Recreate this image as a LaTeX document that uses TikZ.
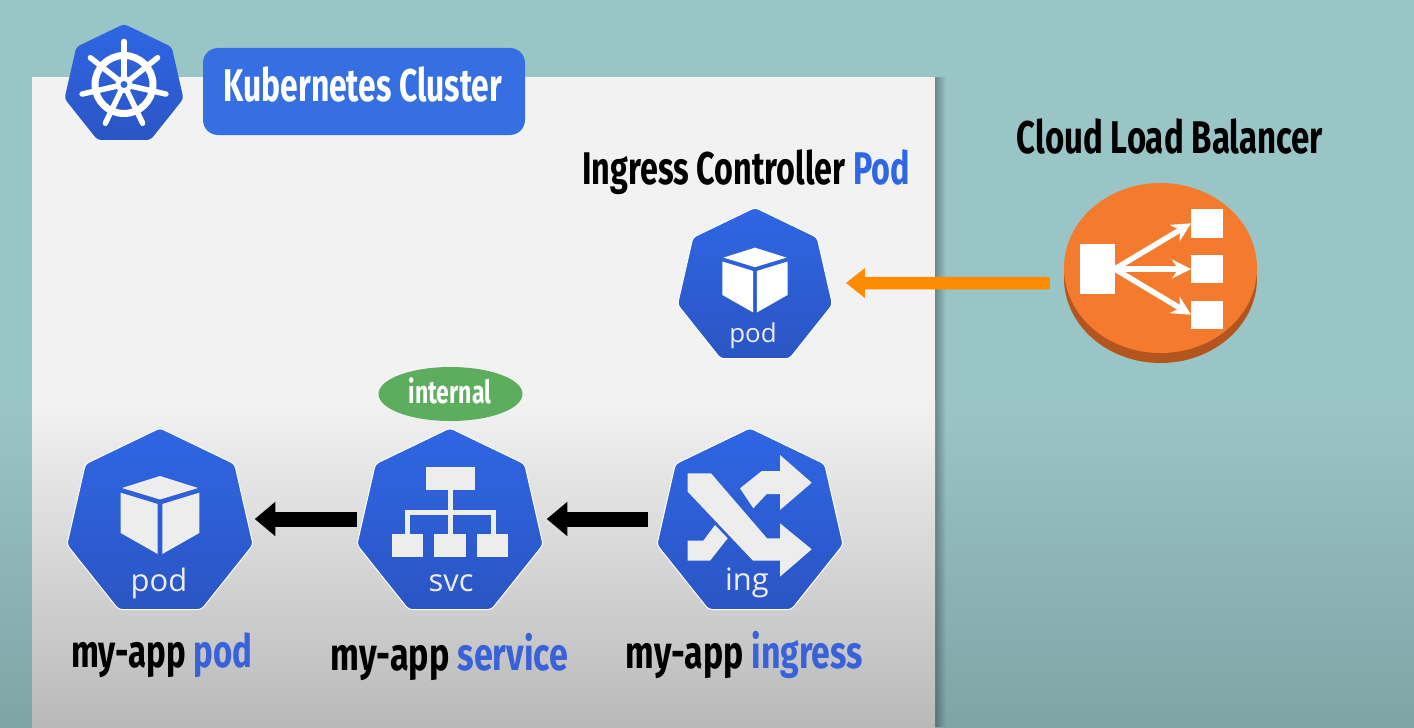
\documentclass[tikz,border=0pt]{standalone}
\usepackage{fontspec}
\setmainfont{Open Sans}
\newfontfamily\headfont[FakeStretch=0.72]{Fira Sans}
\usetikzlibrary{arrows.meta, positioning, shapes.geometric, calc, fadings}
\definecolor{cteal}{HTML}{9AC5C7}
\definecolor{ctealdark}{HTML}{7FA4A6}
\definecolor{cpanel}{HTML}{F2F2F2}
\definecolor{cpaneldark}{HTML}{B9B9B9}
\definecolor{cblue}{HTML}{2F66E4}
\definecolor{cbluedark}{HTML}{2B55C4}
\definecolor{cpill}{HTML}{356FE2}
\definecolor{ctext}{HTML}{3A62D8}
\definecolor{cgreen}{HTML}{5CAE5E}
\definecolor{corange}{HTML}{F47B2E}
\definecolor{corangedark}{HTML}{B3551F}
\definecolor{carrow}{HTML}{FF8C00}
\definecolor{cicon}{HTML}{EDEDED}
\tikzset{
  hepta/.style={regular polygon, regular polygon sides=7, inner sep=0pt, minimum size=#1,
    rounded corners=3.5pt, top color=cblue, bottom color=cbluedark, draw=white!90!cpanel, line width=1pt},
  head/.style={font=\headfont\bfseries\fontsize{46}{48}\selectfont, inner sep=0pt},
  iconlabel/.style={font=\fontsize{#1}{#1}\selectfont, text=cicon, inner sep=0pt},
  flow/.style={-{Triangle[length=20.5bp, width=33bp]}, line width=15bp},
  flowlb/.style={-{Triangle[length=19bp, width=29bp]}, draw=carrow, line width=12.5bp},
  lbbox/.style={fill=white, inner sep=0pt, minimum width=#1},
  fan/.style={-{Stealth[length=19bp, width=19bp]}, draw=white, line width=5.5bp},
}
\newcommand{\cubeicon}[4]{ % x, y, scale, colour
  \begin{scope}[shift={(#1,#2)}, scale=#3]
    \fill[#4] (0,-48) -- (38,-36) -- (0,-24.5) -- (-38,-36) -- cycle;
    \fill[#4] (-39.3,-31.3) -- (-2.3,-20) -- (-2.3,30) -- (-39.3,9) -- cycle;
    \fill[#4] (39.3,-31.3) -- (2.3,-20) -- (2.3,30) -- (39.3,9) -- cycle;
  \end{scope}
}
\begin{document}
\begin{tikzpicture}[x=1bp, y=-1bp]
  \useasboundingbox (0,0) rectangle (1414,727);
  % background
  \fill[cteal] (0,0) rectangle (1414,401);
  \shade[top color=cteal, bottom color=ctealdark] (0,400) rectangle (1414,727);
  \fill[black, opacity=0.3, path fading=east] (935,77) rectangle (946,727);
  % cluster panel
  \fill[cpanel] (32,77) rectangle (935,401);
  \shade[top color=cpanel, bottom color=cpaneldark] (32,400) rectangle (935,727);
  % logo
  \node[hepta=122bp, draw=none] (logo) at (124,85) {};
  \draw[white, line width=7bp] (124,84.5) circle (29);
  \foreach \a in {0,...,6} {
    \draw[white, line width=5.5bp, line cap=round] (124,84.5) -- ++({90+\a*360/7}:-43);
  }
  \fill[white] (124,84.5) circle (8.5);
  \fill[cblue] (124,84.5) circle (3.5);
  \node[fill=cpill, rounded corners=15bp, minimum width=322bp, minimum height=87bp, inner sep=0pt] (clusterbox) at (364,91.5) {};
  \node[head, text=white, xscale=0.965, transform shape] (clustertext) at (363,84) {Kubernetes Cluster};
  % ingress controller
  \node[head, xscale=0.98, transform shape] (ctrltitle) at (746,172.5) {Ingress Controller \textcolor{cblue}{Pod}};
  \node[hepta=159bp] (ctrl) at (755,287) {};
  \cubeicon{755}{287.5}{0.83}{white}
  \node[iconlabel=26] (ctrllabel) at (753,336) {pod};
  % load balancer
  \node[head] (lbtitle) at (1170,136) {Cloud Load Balancer};
  \fill[corangedark] (1160.5,278) ellipse (96.5 and 85);
  \node[ellipse, fill=corange, minimum width=193bp, minimum height=170bp, inner sep=0pt] (lb) at (1160.5,268) {};
  \node[lbbox=34.5bp, minimum height=50bp] (lbin) at (1097.3,269) {};
  \node[lbbox=31.5bp, minimum height=28.5bp] (lbone) at (1207,223.3) {};
  \node[lbbox=31.5bp, minimum height=28bp] (lbtwo) at (1207,269) {};
  \node[lbbox=31.5bp, minimum height=28bp] (lbthree) at (1207,314.7) {};
  \draw[fan] (lbin.east) -- (lbone.west);
  \draw[fan] (lbin.east) -- (lbtwo.west);
  \draw[fan] (lbin.east) -- (lbthree.west);
  \draw[flowlb] ([xshift=-14bp, yshift=-15bp]lb.west) -- ([xshift=17bp, yshift=4bp]ctrl.east);
  % my-app pod
  \node[hepta=191bp] (pod) at (160,523.5) {};
  \cubeicon{160}{524}{1}{cicon}
  \node[iconlabel=31] (podlabel) at (159,583) {pod};
  \node[head] (podtitle) at (162,655) {my-app \textcolor{ctext}{pod}};
  % my-app service
  \node[hepta=191bp] (svc) at (450,523.5) {};
  \fill[cicon] (425.7,467) rectangle (475,490);
  \fill[cicon] (392.3,534) rectangle (423.3,556.7);
  \fill[cicon] (434.3,534) rectangle (465.7,556.7);
  \fill[cicon] (476.7,534) rectangle (508.3,556.7);
  \fill[cicon] (447.7,490) rectangle (452.7,534);
  \fill[cicon] (405,510) rectangle (495.7,515);
  \fill[cicon] (405,510) rectangle (410,534);
  \fill[cicon] (490.7,510) rectangle (495.7,534);
  \node[iconlabel=31] (svclabel) at (451,583) {svc};
  \node[ellipse, fill=cgreen, minimum width=144bp, minimum height=54bp, inner sep=0pt] (internal) at (450.5,394) {};
  \node[font=\headfont\bfseries\fontsize{32}{34}\selectfont, text=white, inner sep=0pt] (internaltext) at (450,391) {internal};
  \node[head, xscale=1.035, transform shape] (svctitle) at (449.5,657) {my-app \textcolor{ctext}{service}};
  % my-app ingress
  \node[hepta=191bp] (ing) at (750,523.5) {};
  \fill[cicon] (687.7,473.3) -- (711,473.3) -- (767,538.3) -- (780,538.3) -- (780,523.3) -- (811.7,549.3)
    -- (780,576.7) -- (780,560.7) -- (753,560.7) -- (687.7,491.7) -- cycle;
  \fill[cicon] (740,488.3) -- (761.7,471) -- (780,471) -- (780,455) -- (811.7,482.7) -- (780,510)
    -- (780,494) -- (766.7,494) -- (753.3,508.3) -- cycle;
  \fill[cicon] (687.7,540.7) -- (703.3,540.7) -- (715,525) -- (727.7,538.3) -- (710,560.7) -- (687.7,560.7) -- cycle;
  \node[iconlabel=31] (inglabel) at (747,583) {ing};
  \node[head, xscale=1.025, transform shape] (ingtitle) at (744.5,655) {my-app \textcolor{ctext}{ingress}};
  % arrows
  \draw[flow] ([xshift=-13bp, yshift=4.5bp]ing.west) -- ([xshift=8bp, yshift=4.5bp]svc.east);
  \draw[flow] ([xshift=-4bp, yshift=4.5bp]svc.west) -- ([xshift=6bp, yshift=4.5bp]pod.east);
\end{tikzpicture}
\end{document}
